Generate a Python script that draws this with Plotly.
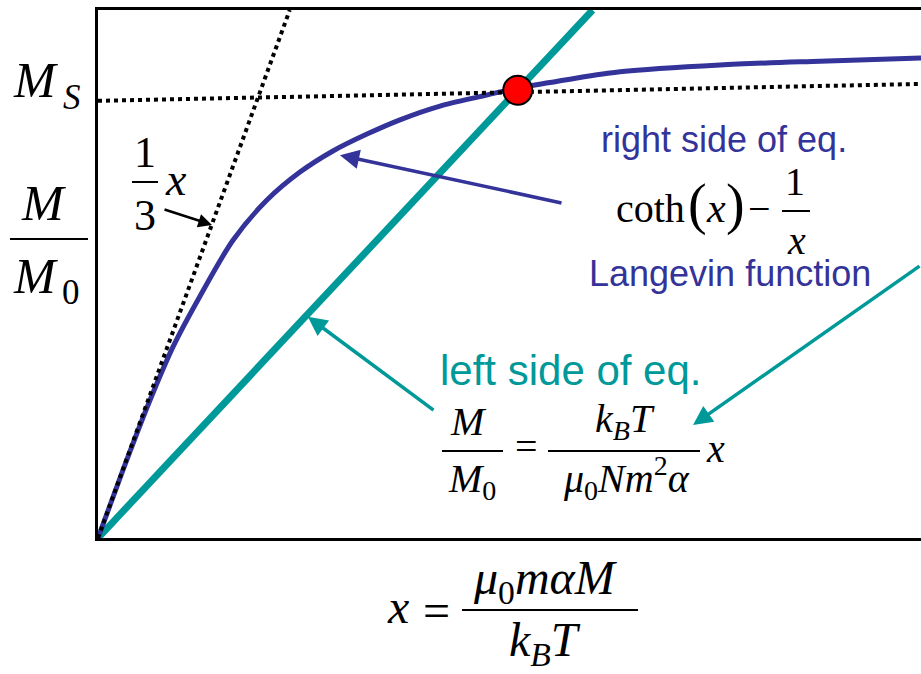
import plotly.graph_objects as go

W, H = 921, 674
ML, MR, MT, MB = 98, 0, 10, 136

# Langevin function coth(x) - 1/x, as sampled along the drawn curve
lang_x = [0, 0.304, 0.608, 0.911, 1.239, 1.640, 2.053, 2.454, 2.855, 3.268,
          3.669, 4.156, 4.641, 5.103, 5.735, 6.343, 7.558, 8.773, 10.0]
lang_y = [0, 0.129, 0.252, 0.362, 0.458, 0.564, 0.640, 0.693, 0.733, 0.765,
          0.792, 0.818, 0.836, 0.852, 0.869, 0.883, 0.896, 0.903, 0.909]

# left side of the equation: straight line through the origin
left_x = [0, 6.01]
left_y = [0, 1.0]

# initial slope (1/3) x
slope_x = [0, 2.33]
slope_y = [0, 1.0]

# saturation level M_S
ms_x = [0, 10]
ms_y = [0.828, 0.860]

# graphical solution (intersection)
sol_x = [5.10]
sol_y = [0.848]

BLUE = "#333399"
TEAL = "#009999"
SERIF = "Liberation Serif"
SANS = "Liberation Sans"

fig = go.Figure()
fig.add_trace(go.Scatter(x=left_x, y=left_y, mode="lines",
                         line=dict(color=TEAL, width=7), hoverinfo="skip"))
fig.add_trace(go.Scatter(x=lang_x, y=lang_y, mode="lines",
                         line=dict(color=BLUE, width=5, shape="spline", smoothing=0.8),
                         hoverinfo="skip"))
fig.add_trace(go.Scatter(x=slope_x, y=slope_y, mode="lines",
                         line=dict(color="black", width=4, dash="4px,4px"), hoverinfo="skip"))
fig.add_trace(go.Scatter(x=ms_x, y=ms_y, mode="lines",
                         line=dict(color="black", width=4, dash="4px,4px"), hoverinfo="skip"))
fig.add_trace(go.Scatter(x=sol_x, y=sol_y, mode="markers",
                         marker=dict(color="#ff0000", size=29, line=dict(color="black", width=2)),
                         hoverinfo="skip", cliponaxis=False))


def pxx(px):
    return (px - ML) / (W - ML - MR)


def pxy(py):
    return (H - MB - py) / (H - MT - MB)


annotations = []
shapes = []


def text(cx, base, s, size, family=SERIF, color="black", anchor="center"):
    # place text by horizontal anchor and baseline position (in pixels)
    annotations.append(dict(
        x=pxx(cx), y=pxy(base - 0.34 * size), xref="paper", yref="paper",
        text=s, showarrow=False, xanchor=anchor, yanchor="middle",
        font=dict(family=family, size=size, color=color), borderpad=0))


def bar(x0, x1, y, width=2):
    shapes.append(dict(type="line", xref="paper", yref="paper",
                       x0=pxx(x0), x1=pxx(x1), y0=pxy(y), y1=pxy(y),
                       line=dict(color="black", width=width)))


def arrow(hx, hy, tx, ty, color, width=3, size=1.1):
    annotations.append(dict(
        x=hx, y=hy, ax=tx, ay=ty, xref="x", yref="y", axref="x", ayref="y",
        text="", showarrow=True, arrowhead=2, arrowsize=size,
        arrowwidth=width, arrowcolor=color, standoff=0))


# y-axis label: M_S and M / M_0
text(35, 97, "<i>M</i>", 50)
text(72, 109, "<i>S</i>", 35)
text(43, 220, "<i>M</i>", 50)
bar(10, 88, 239)
text(35, 293, "<i>M</i>", 50)
text(71, 304, "0", 35)

# (1/3) x
text(145, 167, "1", 44)
bar(132, 158, 182)
text(145, 230, "3", 44)
text(176, 195, "<i>x</i>", 46)

# right side of eq.
text(724, 152, "right side of eq.", 36, SANS, BLUE)
text(615, 222, "coth", 40, anchor="left")
text(697, 224, "(", 56)
text(716, 222, "<i>x</i>", 42)
text(735, 224, ")", 56)
text(759, 222, "\u2212", 40)
text(795, 195, "1", 40)
bar(782, 810, 211)
text(796, 254, "<i>x</i>", 40)
text(730, 286, "Langevin function", 36, SANS, BLUE)

# left side of eq.
text(571, 385, "left side of eq.", 42, SANS, TEAL)
text(468, 435, "<i>M</i>", 40)
bar(442, 503, 451)
text(472, 495, "<i>M</i><sub>0</sub>", 40)
text(526, 460, "=", 40)
text(625, 435, "<i>k</i><sub><i>B</i></sub><i>T</i>", 40)
bar(548, 700, 451)
text(626, 492, "<i>\u03bc</i><sub>0</sub><i>Nm</i><sup>2</sup><i>\u03b1</i>", 40)
text(715, 462, "<i>x</i>", 40)

# x-axis label: x = mu0 m alpha M / (k_B T)
text(398, 623, "<i>x</i>", 48)
text(436, 627, "=", 48)
text(545, 597, "<i>\u03bc</i><sub>0</sub><i>m\u03b1M</i>", 48)
bar(462, 638, 610)
text(545, 659, "<i>k</i><sub><i>B</i></sub><i>T</i>", 48)

# annotation arrows
arrow(1.385, 0.593, 0.79, 0.623, "black", width=2.5)
arrow(2.94, 0.725, 5.65, 0.634, BLUE, width=3.5)
arrow(2.55, 0.419, 4.095, 0.240, TEAL, width=3.5)
arrow(7.23, 0.214, 10.0, 0.517, TEAL, width=3.5)

axis_common = dict(showgrid=False, zeroline=False, showticklabels=False, ticks="",
                   showline=True, linecolor="black", linewidth=3, fixedrange=True)
fig.update_xaxes(range=[0, 10], mirror=True, **axis_common)
fig.update_yaxes(range=[0, 1], mirror=False, **axis_common)

fig.update_layout(
    width=W, height=H,
    margin=dict(l=ML, r=MR, t=MT, b=MB),
    paper_bgcolor="white", plot_bgcolor="white",
    showlegend=False,
    annotations=annotations, shapes=shapes,
)

fig.write_html("out.html")
